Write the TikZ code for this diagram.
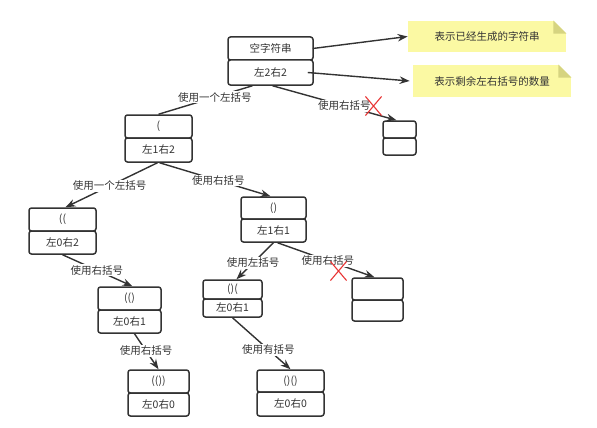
\documentclass[tikz,border=0pt]{standalone}
\usepackage{fontspec}
\setmainfont{Noto Sans CJK SC}
\usetikzlibrary{arrows.meta,shapes.misc}

\definecolor{inkgray}{RGB}{51,51,51}
\definecolor{notefill}{RGB}{251,249,163}
\definecolor{notefold}{RGB}{214,212,128}
\definecolor{crossred}{RGB}{232,52,52}

\tikzset{every picture/.style={line width=0.75pt}}
\tikzset{
  cell/.style={draw=inkgray, line width=1.5pt, rounded corners=2.5pt, fill=white,
    text=inkgray, font=\fontsize{10.5}{12}\selectfont, inner sep=0pt},
  note/.style={fill=notefill, text=inkgray, font=\fontsize{10.5}{12}\selectfont,
    minimum width=158, inner sep=0pt},
  lbl/.style={fill=white, text=inkgray, font=\fontsize{10.5}{12}\selectfont, inner sep=1pt},
  link/.style={draw=inkgray, line width=1.4pt},
  arr/.style={link, -{Stealth[length=10pt,width=7.5pt]}},
  nogo/.style={cross out, draw=crossred, line width=1.1pt, minimum width=15, minimum height=18, inner sep=0pt},
}

\begin{document}
\begin{tikzpicture}[x=1pt,y=1pt,yscale=-1,xscale=1]
	\useasboundingbox (0,0) rectangle (597,428);

	% Root
	\node[cell, minimum width=85, minimum height=23] (roota) at (270.5,48.5) {空字符串};
	\node[cell, minimum width=85, minimum height=25] (rootb) at (270.5,72.5) {左2右2};

	% Notes
	\node[note, minimum height=31] (note1) at (487,36.5) {表示已经生成的字符串};
	\fill[white] (note1.north east) -- ++(-13,0) -- ++(13,13) -- cycle;
	\fill[notefold] ([xshift=-13]note1.north east) -- ++(13,13) -- ++(-13,0) -- cycle;
	\node[note, minimum height=32] (note2) at (492,81) {表示剩余左右括号的数量};
	\fill[white] (note2.north east) -- ++(-13,0) -- ++(13,13) -- cycle;
	\fill[notefold] ([xshift=-13]note2.north east) -- ++(13,13) -- ++(-13,0) -- cycle;

	\draw[arr] ([xshift=-1]roota.east) -- (note1.west);
	\draw[arr] ([xshift=-6]rootb.east) -- ([xshift=-3]note2.west);

	% Level 1
	\node[cell, minimum width=33, minimum height=17] (d1a) at (399.5,129.5) {};
	\node[cell, minimum width=33, minimum height=17] (d1b) at (399.5,146.5) {};
	\node[cell, minimum width=67, minimum height=23] (n1a) at (158.5,126.5) {(};
	\node[cell, minimum width=67, minimum height=24] (n1b) at (158.5,150) {左1右2};

	% Level 2
	\node[cell, minimum width=67, minimum height=23] (n2a) at (62.5,219.5) {((};
	\node[cell, minimum width=67, minimum height=23] (n2b) at (62.5,242.5) {左0右2};
	\node[cell, minimum width=65, minimum height=22] (n3a) at (273.5,208) {()};
	\node[cell, minimum width=65, minimum height=23] (n3b) at (273.5,230.5) {左1右1};

	% Level 3
	\node[cell, minimum width=63, minimum height=23] (n5a) at (129.5,298.5) {(()};
	\node[cell, minimum width=63, minimum height=23] (n5b) at (129.5,321.5) {左0右1};
	\node[cell, minimum width=59, minimum height=19] (n4a) at (232.5,289.5) {()(};
	\node[cell, minimum width=59, minimum height=18] (n4b) at (232.5,308) {左0右1};
	\node[cell, minimum width=51, minimum height=22] (d2a) at (377.5,289) {};
	\node[cell, minimum width=51, minimum height=21] (d2b) at (377.5,310.5) {};

	% Level 4
	\node[cell, minimum width=61, minimum height=23] (n6a) at (158.5,381.5) {(())};
	\node[cell, minimum width=61, minimum height=23] (n6b) at (158.5,404.5) {左0右0};
	\node[cell, minimum width=67, minimum height=22] (n7a) at (290.5,381) {()()};
	\node[cell, minimum width=67, minimum height=24] (n7b) at (290.5,404) {左0右0};

	% Edges
	\draw[link] ([xshift=-18]rootb.south) -- node[lbl, pos=0.4] {使用一个左括号} (n1a.north);
	\draw[arr] ([xshift=2]rootb.south) -- node[lbl, pos=0.58] {使用右括号} ([xshift=-3]d1a.north);
	\draw[arr] ([xshift=-1]n1b.south) -- node[lbl, pos=0.52] {使用一个左括号} ([xshift=3]n2a.north);
	\draw[arr] ([xshift=1]n1b.south) -- node[lbl, pos=0.53] {使用右括号} ([xshift=-3]n3a.north);
	\draw[arr] (n2b.south) -- node[lbl, pos=0.49] {使用右括号} ([xshift=3]n5a.north);
	\draw[arr] (n3b.south) -- node[lbl, pos=0.55] {使用左括号} ([xshift=4]n4a.north);
	\draw[arr] ([xshift=4]n3b.south) -- node[lbl, pos=0.52] {使用右括号} ([xshift=-3]d2a.north);
	\draw[arr] ([xshift=5]n5b.south) -- node[lbl, pos=0.48] {使用右括号} (n6a.north);
	\draw[arr] (n4b.south) -- node[lbl, pos=0.62] {使用有括号} (n7a.north);

	% Crosses
	\node[nogo] (x1) at (373.5,106) {};
	\node[nogo] (x2) at (338.5,271) {};

\end{tikzpicture}
\end{document}
